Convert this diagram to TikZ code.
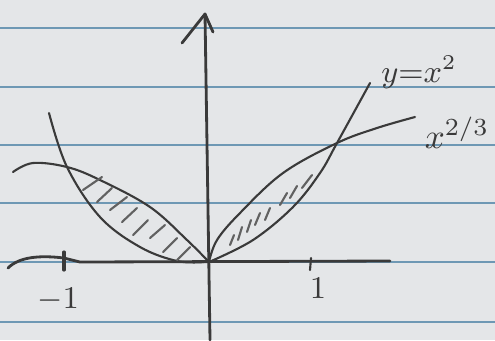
\documentclass[tikz,border=0pt]{standalone}
\usepackage{amsmath,amssymb}
\usepackage{tikz}
\definecolor{paper}{HTML}{E4E6E8}
\definecolor{rule}{HTML}{6E98B4}
\definecolor{pencil}{HTML}{3A3A3A}
\begin{document}
\begin{tikzpicture}[x=1cm,y=1cm,every node/.style={font=\small,text=pencil},
  pen/.style={draw=pencil,line width=0.6pt,line cap=round,line join=round},
  hatch/.style={draw=pencil!80,line width=0.6pt,line cap=round}]
\fill[paper] (-2.09,-0.78) rectangle (2.86,2.62);
\useasboundingbox (-2.09,-0.78) rectangle (2.86,2.62);
% ruled lines of the sheet
\foreach \v in {2.34,1.75,1.17,0.59,0,-0.60}
 \draw[rule,line width=0.5pt] (-2.09,\v)--(2.86,\v);
% axes
\draw[pen,line width=0.8pt] (-2.01,-0.06) .. controls (-1.90,0.05) and (-1.70,0.07) .. (-1.45,0.04) -- (-1.29,0) -- (1.81,0.01);
\draw[pen,line width=0.8pt] (0.01,-0.78)--(-0.04,2.48);
\draw[pen,line width=0.8pt] (-0.27,2.19)--(-0.04,2.48)--(0.04,2.30);
\draw[pen,line width=0.9pt] (-1.45,0.10)--(-1.45,-0.08);
\draw[pen] (1.02,0.04)--(1.01,-0.08);
\node (m1) at (-1.51,-0.38) {$-1$};
\node (p1) at (1.09,-0.26) {$1$};
% right side curves
\draw[pen] plot[smooth,tension=0.6] coordinates {(0,0) (0.44,0.22) (0.84,0.55) (1.11,0.89) (1.28,1.19) (1.61,1.79)};
\draw[pen] plot[smooth,tension=0.6] coordinates {(0,0) (0.08,0.22) (0.31,0.49) (0.74,0.89) (1.28,1.19) (1.68,1.34) (2.06,1.45)};
% left side curves
\draw[pen] plot[smooth,tension=0.6] coordinates {(-1.60,1.49) (-1.42,0.95) (-1.09,0.45) (-0.69,0.15) (-0.32,0.01) (-0.05,0)};
\draw[pen] plot[smooth,tension=0.6] coordinates {(-1.96,0.90) (-1.76,0.99) (-1.42,0.95) (-1.09,0.82) (-0.59,0.55) (-0.22,0.22) (0,0)};
% shading
\foreach \a/\b/\c/\d in {-1.26/0.72/-1.07/0.85,-1.12/0.60/-0.97/0.74,-0.99/0.52/-0.82/0.65,-0.87/0.40/-0.72/0.54,-0.76/0.27/-0.61/0.42,-0.59/0.24/-0.44/0.37,-0.46/0.10/-0.32/0.24,-0.32/0.02/-0.19/0.15}
 \draw[hatch] (\a,\b)--(\c,\d);
\foreach \a/\b/\c/\d in {0.21/0.17/0.25/0.27,0.29/0.22/0.33/0.35,0.38/0.30/0.42/0.42,0.46/0.37/0.51/0.49,0.56/0.42/0.61/0.54,0.71/0.57/0.78/0.69,0.81/0.64/0.88/0.76,0.93/0.74/1.03/0.87}
 \draw[hatch] (\a,\b)--(\c,\d);
\node (sq) at (2.10,1.90) {$y{=}x^2$};
\node[font=\normalsize] (cb) at (2.48,1.29) {$x^{2/3}$};
\end{tikzpicture}
\end{document}
